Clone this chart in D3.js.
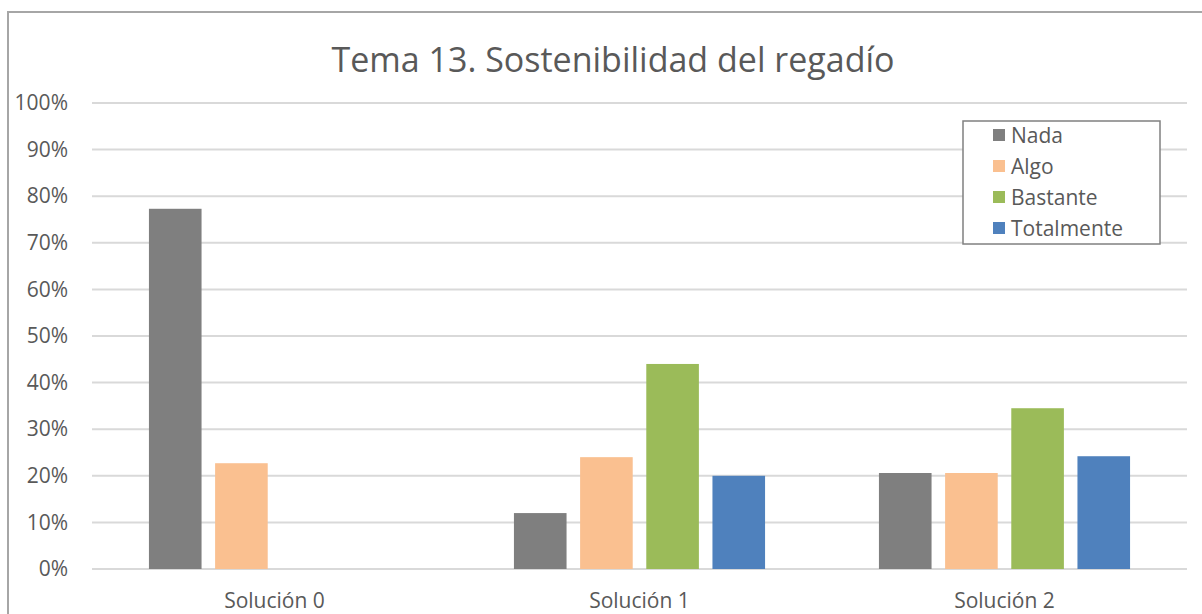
<!DOCTYPE html>
<html>
<head>
<meta charset="utf-8">
<script src="https://cdn.jsdelivr.net/npm/d3@7"></script>
<style>
  body { margin: 0; background: #fff; }
  text { font-family: "Open Sans", "Noto Sans", sans-serif; fill: #595959; }
</style>
</head>
<body>
<svg id="chart"></svg>
<script>
// chart size
let width = 1202
let height = 614

// data
let categories = ["Solución 0", "Solución 1", "Solución 2"]
let seriesNames = ["Nada", "Algo", "Bastante", "Totalmente"]
let seriesColors = ["#7f7f7f", "#fac090", "#9bbb59", "#4f81bd"]
let nada = [0.773, 0.12, 0.206]
let algo = [0.227, 0.24, 0.206]
let bastante = [0, 0.44, 0.345]
let totalmente = [0, 0.20, 0.242]
let yTicks = [0, 0.1, 0.2, 0.3, 0.4, 0.5, 0.6, 0.7, 0.8, 0.9, 1.0]

let seriesValues = [nada, algo, bastante, totalmente]

let padding = {
	left: 92,
	top: 103,
	right: 15,
	bottom: 45
}

let svg = d3.select("#chart")
	.attr("width", width)
	.attr("height", height)

// outer frame
svg.append("rect")
	.attr("x", 8)
	.attr("y", 12)
	.attr("width", width + 20)
	.attr("height", height + 20)
	.attr("fill", "none")
	.attr("stroke", "#a6a6a6")
	.attr("stroke-width", 2)

//Scales
let yScale = d3.scaleLinear()
	.domain([0, 1])
	.range([height - padding.bottom, padding.top])

let xScale = d3.scaleBand()
	.domain(categories)
	.range([padding.left, width - padding.right])
	.paddingInner(0.312)
	.paddingOuter(0.156)

let groupScale = d3.scaleBand()
	.domain(seriesNames)
	.range([0, xScale.bandwidth()])
	.paddingInner(0.205)

//Gridlines
svg.append("g")
	.selectAll("line")
	.data(yTicks)
	.enter()
	.append("line")
		.attr("x1", padding.left)
		.attr("x2", width - padding.right)
		.attr("y1", d => yScale(d))
		.attr("y2", d => yScale(d))
		.attr("stroke", "#d9d9d9")
		.attr("stroke-width", 2)

//Y axis labels
let axisY = d3.axisLeft(yScale)
	.tickValues(yTicks)
	.tickFormat(d3.format(".0%"))
	.tickSize(0)
	.tickPadding(24)

let gy = svg.append("g")
	.attr("transform", `translate(${padding.left},0)`)
	.call(axisY)
gy.select(".domain").remove()
gy.selectAll("text")
	.attr("font-size", 21)
	.attr("font-family", null)
	.attr("fill", null)

//Bars
seriesNames.forEach((name, s) => {
	svg.append("g")
		.selectAll("rect")
		.data(seriesValues[s])
		.enter()
		.append("rect")
			.attr("x", (d, i) => xScale(categories[i]) + groupScale(name))
			.attr("y", d => yScale(d))
			.attr("width", groupScale.bandwidth())
			.attr("height", d => yScale(0) - yScale(d))
			.attr("fill", seriesColors[s])
})

//X axis labels
let axisX = d3.axisBottom(xScale)
	.tickSize(0)
	.tickPadding(24)

let gx = svg.append("g")
	.attr("transform", `translate(0,${yScale(0)})`)
	.call(axisX)
gx.select(".domain").remove()
gx.selectAll("text")
	.attr("font-size", 21)
	.attr("font-family", null)
	.attr("fill", null)

//Title
svg.append("text")
	.attr("x", 613)
	.attr("y", 72)
	.attr("text-anchor", "middle")
	.attr("font-size", 34)
	.text("Tema 13. Sostenibilidad del regadío")

//Legend
let legend = svg.append("g")
	.attr("transform", "translate(963,121)")

legend.append("rect")
	.attr("width", 197)
	.attr("height", 123)
	.attr("fill", "#fff")
	.attr("stroke", "#808080")
	.attr("stroke-width", 1.5)

let items = legend.selectAll(".item")
	.data(seriesNames)
	.enter()
	.append("g")
		.attr("transform", (d, i) => `translate(30,${14 + i * 31})`)

items.append("rect")
	.attr("x", 0)
	.attr("y", -6)
	.attr("width", 12)
	.attr("height", 12)
	.attr("fill", (d, i) => seriesColors[i])

items.append("text")
	.attr("x", 18)
	.attr("y", 7.5)
	.attr("font-size", 21)
	.text(d => d)
</script>
</body>
</html>
